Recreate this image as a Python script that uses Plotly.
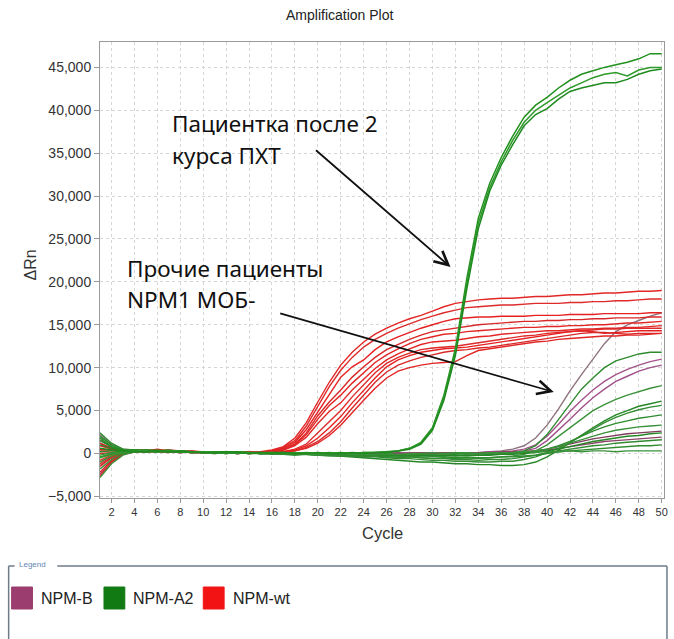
import plotly.graph_objects as go

# ---------------- data (ΔRn values in thousands) ----------------
cycles = list(range(1, 51))

npm_wt = [
    [1.2,0.6,0.3,0.3,0.4,0.3,0.2,0.3,0.2,0.2,0.1,0.2,0.1,0.1,0.2, 0.4,0.8,1.8,3.6,6.0,8.3,10.3,11.8,13.0,13.9,14.6,15.2,15.7,16.1,16.6,17.1,17.5, 17.7,17.9,18.0,18.1,18.1,18.2,18.3,18.3,18.4,18.5,18.5,18.6,18.7,18.7,18.8,18.9,18.9,19.0],
    [-0.8,-0.2,0.2,0.3,0.3,0.4,0.2,0.2,0.3,0.1,0.2,0.1,0.2,0.1,0.1, 0.3,0.7,1.5,3.2,5.5,7.8,9.7,11.2,12.4,13.3,14.0,14.6,15.1,15.6,16.0,16.4,16.7, 17.0,17.1,17.2,17.3,17.3,17.4,17.5,17.5,17.5,17.6,17.6,17.7,17.7,17.8,17.8,17.9,18.0,18.0],
    [0.5,0.4,0.3,0.2,0.3,0.5,0.3,0.2,0.2,0.2,0.1,0.1,0.2,0.2,0.1, 0.3,0.6,1.3,2.8,4.8,6.9,8.9,10.1,10.9,12.1,13.0,13.6,14.1,14.6,15.0,15.4,15.7, 15.8,15.9,15.9,16.0,16.0,16.0,16.1,16.1,16.1,16.2,16.2,16.2,16.3,16.3,16.3,16.3,16.4,16.4],
    [-2.2,-0.8,0.0,0.3,0.2,0.3,0.4,0.1,0.2,0.2,0.2,0.1,0.1,0.2,0.1, 0.2,0.5,1.1,2.4,4.4,6.0,7.4,8.9,10.1,11.2,12.1,12.7,13.3,13.8,14.2,14.4,14.6, 14.8,15.0,15.1,15.2,15.3,15.4,15.4,15.5,15.5,15.6,15.6,15.7,15.7,15.8,15.8,15.8,15.9,15.9],
    [0.9,0.5,0.3,0.3,0.2,0.2,0.4,0.3,0.1,0.1,0.2,0.2,0.1,0.1,0.2, 0.2,0.4,1.0,2.2,4.0,5.6,6.8,8.2,9.4,10.6,11.5,12.2,12.8,13.3,13.6,13.9,14.0, 14.2,14.3,14.4,14.5,14.6,14.7,14.7,14.8,14.8,14.9,14.9,15.0,15.0,15.1,15.2,15.2,15.3,15.4],
    [-1.5,-0.5,0.1,0.2,0.3,0.2,0.1,0.3,0.2,0.1,0.1,0.2,0.1,0.0,0.1, 0.2,0.4,0.9,1.9,3.5,4.9,5.9,7.4,8.6,9.9,10.9,11.6,12.2,12.7,13.0,13.1,13.2, 13.4,13.6,13.7,13.9,14.0,14.1,14.2,14.3,14.3,14.4,14.5,14.5,14.6,14.6,14.7,14.7,14.8,14.9],
    [0.3,0.3,0.2,0.4,0.3,0.2,0.2,0.1,0.3,0.2,0.1,0.1,0.1,0.1,0.1, 0.1,0.2,0.5,1.1,2.4,3.7,5.0,6.6,8.0,9.4,10.5,11.2,11.7,12.1,12.3,12.4,12.5, 12.7,12.9,13.1,13.3,13.5,13.7,13.8,14.0,14.1,14.2,14.3,14.4,14.5,14.5,14.6,14.6,14.6,14.6],
    [-2.6,-1.0,-0.1,0.2,0.2,0.3,0.2,0.2,0.1,0.2,0.2,0.1,0.0,0.1,0.1, 0.1,0.2,0.4,0.9,1.8,3.0,4.3,5.9,7.4,8.8,10.1,10.9,11.4,11.8,12.0,12.2,12.3, 12.4,12.6,12.8,13.0,13.2,13.4,13.6,13.8,14.0,14.2,14.3,14.2,14.0,14.1,14.2,14.3,14.3,14.3],
    [0.0,0.1,0.2,0.3,0.2,0.3,0.2,0.1,0.2,0.1,0.0,0.1,0.1,0.1,0.0, 0.1,0.2,0.3,0.7,1.4,2.4,3.7,5.3,6.8,8.3,9.5,10.3,10.8,11.2,11.5,11.8,12.0, 12.1,12.3,12.4,12.6,12.8,13.0,13.2,13.4,13.6,13.8,14.0,14.1,14.1,14.0,13.9,14.0,14.0,14.0],
    [-1.2,-0.4,0.1,0.2,0.3,0.2,0.2,0.2,0.1,0.1,0.1,0.0,0.1,0.1,0.1, 0.1,0.1,0.3,0.6,1.2,2.1,3.3,4.8,6.2,7.6,8.8,9.6,10.0,10.3,10.5,10.6,10.7, 11.4,12.0,12.2,12.4,12.6,12.8,13.0,13.1,13.3,13.4,13.5,13.6,13.7,13.7,13.8,13.8,13.9,14.0],
]

npm_a2_high = [
    [1.8,0.8,0.3,0.4,0.3,0.3,0.2,0.3,0.2,0.2,0.1,0.1,0.2,0.1,0.1,0.1,0.1,0.0,0.1,0.0,0.0,0.1,0.0,0.1,0.1, 0.2,0.3,0.6,1.3,3.0,6.8,12.2,20.4,27.4,31.5,34.5,37.0,39.2,40.6,41.5,42.6,43.5,44.2,44.6,45.0,45.3,45.6,46.0,46.6,46.6],
    [-0.5,-0.1,0.2,0.3,0.3,0.2,0.3,0.2,0.1,0.2,0.2,0.1,0.1,0.1,0.0,0.1,0.0,0.1,0.0,0.0,0.1,0.0,0.0,0.1,0.1, 0.2,0.3,0.6,1.2,2.9,6.5,11.8,19.8,26.8,31.0,34.0,36.5,38.6,40.0,40.9,41.8,42.6,43.2,43.8,44.2,44.4,44.0,44.7,45.0,45.0],
    [0.6,0.4,0.3,0.2,0.2,0.3,0.2,0.2,0.2,0.1,0.1,0.2,0.1,0.0,0.1,0.0,0.1,0.0,0.0,0.1,0.0,0.0,0.1,0.0,0.1, 0.1,0.3,0.5,1.1,2.7,6.2,11.4,19.2,26.2,30.6,33.6,36.0,38.2,39.5,40.2,41.3,42.2,42.6,42.9,43.2,43.2,43.6,44.2,44.6,44.8],
]

npm_a2_low = [
    [2.4,1.2,0.5,0.4,0.3,0.3,0.4,0.2,0.2,0.1,0.2,0.1,0.1,0.0,0.1, 0.0,0.1,0.0,-0.1,0.0,-0.1,-0.2,-0.1,-0.2,-0.2,-0.1,-0.2,-0.1,-0.2,-0.1,-0.1,0.0,-0.1,0.0,0.1,0.0,0.1, 0.3,0.9,2.2,4.0,5.8,7.5,8.8,10.0,10.8,11.2,11.6,11.8,11.8],
    [-2.8,-1.2,-0.2,0.2,0.3,0.2,0.3,0.1,0.2,0.2,0.1,0.0,0.1,0.1,0.0, 0.0,-0.1,-0.2,-0.1,-0.2,-0.3,-0.2,-0.3,-0.4,-0.3,-0.4,-0.5,-0.4,-0.5,-0.6,-0.5,-0.6,-0.5,-0.6,-0.5,-0.4,-0.3,-0.1, 0.3,1.0,2.0,3.0,4.0,5.0,5.7,6.3,6.8,7.2,7.6,7.9],
    [1.0,0.6,0.4,0.3,0.4,0.3,0.2,0.3,0.2,0.1,0.1,0.1,0.2,0.1,0.1, 0.1,0.0,0.0,-0.1,-0.1,-0.2,-0.3,-0.4,-0.5,-0.6,-0.7,-0.8,-0.9,-1.0,-1.0,-1.1,-1.2,-1.2,-1.3,-1.3,-1.4,-1.4,-1.3,-1.0, -0.4,0.4,1.3,2.2,3.0,3.8,4.5,5.0,5.5,5.8,6.1],
    [-1.8,-0.7,0.0,0.2,0.2,0.3,0.3,0.2,0.2,0.1,0.1,0.0,0.1,0.1,0.1, 0.0,0.0,-0.1,-0.1,-0.2,-0.2,-0.3,-0.3,-0.4,-0.4,-0.5,-0.6,-0.6,-0.7,-0.8,-0.8,-0.9,-0.9,-1.0,-1.0,-0.9,-0.9,-0.7,-0.4, 0.1,0.6,1.3,2.1,2.9,3.6,4.2,4.7,5.1,5.4,5.6],
    [0.2,0.3,0.3,0.4,0.3,0.2,0.3,0.2,0.1,0.2,0.1,0.1,0.0,0.1,0.0, 0.0,-0.1,0.0,-0.1,-0.1,-0.2,-0.1,-0.2,-0.2,-0.3,-0.2,-0.3,-0.3,-0.2,-0.3,-0.2,-0.3,-0.2,-0.2,-0.1,-0.1,0.0,0.1,0.2, 0.5,0.9,1.4,2.0,2.6,3.1,3.5,3.8,4.1,4.3,4.5],
    [-1.0,-0.3,0.1,0.3,0.2,0.3,0.2,0.2,0.2,0.1,0.0,0.1,0.1,0.0,0.1, 0.1,0.0,0.0,-0.1,0.0,-0.1,-0.1,-0.2,-0.1,-0.2,-0.2,-0.1,-0.2,-0.1,-0.2,-0.1,-0.1,0.0,-0.1,0.0,0.1,0.1,0.2,0.3, 0.5,0.8,1.2,1.6,2.0,2.4,2.7,2.9,3.1,3.2,3.3],
    [1.5,0.8,0.4,0.3,0.3,0.4,0.2,0.3,0.1,0.1,0.2,0.1,0.1,0.1,0.0, 0.0,0.1,0.0,0.0,-0.1,0.0,-0.1,-0.1,-0.2,-0.1,-0.2,-0.2,-0.3,-0.2,-0.3,-0.3,-0.2,-0.3,-0.2,-0.2,-0.1,-0.1,0.0,0.1, 0.3,0.5,0.8,1.1,1.4,1.6,1.8,2.0,2.1,2.3,2.4],
    [-0.4,0.0,0.2,0.3,0.2,0.2,0.3,0.2,0.1,0.1,0.1,0.2,0.1,0.0,0.0, 0.0,0.0,-0.1,-0.1,-0.2,-0.2,-0.3,-0.3,-0.4,-0.3,-0.4,-0.5,-0.4,-0.5,-0.6,-0.6,-0.7,-0.7,-0.8,-0.7,-0.7,-0.6,-0.4,-0.2, 0.1,0.3,0.5,0.7,0.9,1.0,1.2,1.3,1.4,1.5,1.6],
    [2.0,1.0,0.5,0.3,0.4,0.3,0.3,0.2,0.2,0.2,0.1,0.1,0.1,0.1,0.1, 0.1,0.0,0.0,0.0,-0.1,-0.1,-0.1,-0.2,-0.2,-0.2,-0.3,-0.3,-0.3,-0.4,-0.4,-0.4,-0.5,-0.5,-0.5,-0.5,-0.4,-0.4,-0.3,-0.2, 0.0,0.2,0.3,0.4,0.5,0.6,0.7,0.8,0.9,0.9,1.0],
    [-0.2,0.1,0.2,0.2,0.3,0.2,0.2,0.3,0.2,0.1,0.1,0.1,0.1,0.1,0.0, 0.0,0.0,0.0,-0.1,-0.1,-0.1,0.0,-0.1,-0.1,-0.1,0.0,-0.1,0.0,0.0,0.1,0.0,0.1,0.1,0.0,0.1,0.1,0.1,0.2,0.2, 0.2,0.2,0.3,0.2,0.3,0.3,0.2,0.3,0.3,0.3,0.3],
]

npm_b = [
    [2.2,1.0,0.5,0.4,0.4,0.3,0.3,0.3,0.2,0.2,0.2,0.1,0.1,0.1,0.1, 0.1,0.1,0.0,0.0,0.0,0.0,-0.1,0.0,0.0,-0.1,0.0,0.0,0.0,0.0,0.1,0.0,0.1,0.1,0.1,0.2,0.3,0.5, 0.9,1.8,3.3,5.2,7.3,9.2,11.0,12.8,14.2,15.0,15.5,16.0,16.4],
    [1.6,0.7,0.4,0.3,0.3,0.3,0.2,0.2,0.2,0.2,0.1,0.1,0.1,0.1,0.0, 0.0,0.0,0.0,-0.1,0.0,-0.1,-0.1,0.0,-0.1,0.0,0.0,0.0,0.1,0.0,0.0,0.1,0.1,0.1,0.1,0.2,0.2,0.3, 0.5,1.0,2.0,3.4,4.9,6.2,7.4,8.4,9.2,9.8,10.3,10.7,11.0],
    [-2.4,-1.0,-0.1,0.2,0.3,0.2,0.2,0.2,0.1,0.1,0.1,0.1,0.1,0.0,0.1, 0.0,0.0,-0.1,-0.1,0.0,-0.1,0.0,-0.1,0.0,0.0,0.0,0.1,0.0,0.0,0.1,0.0,0.1,0.1,0.1,0.1,0.2,0.2, 0.3,0.6,1.5,2.7,4.0,5.3,6.5,7.5,8.4,9.0,9.6,10.0,10.3],
    [1.2,0.6,0.3,0.3,0.2,0.3,0.2,0.2,0.1,0.1,0.2,0.1,0.0,0.1,0.1, 0.0,0.0,0.0,0.0,-0.1,0.0,0.0,-0.1,0.0,0.0,0.0,0.0,0.0,0.1,0.0,0.1,0.1,0.0,0.1,0.1,0.1,0.1, 0.2,0.3,0.5,0.8,1.1,1.4,1.7,1.9,2.1,2.3,2.4,2.5,2.6],
    [-1.4,-0.5,0.1,0.2,0.3,0.2,0.2,0.1,0.2,0.1,0.1,0.1,0.0,0.1,0.0, 0.0,0.0,0.0,-0.1,-0.1,0.0,-0.1,0.0,0.0,0.0,0.1,0.0,0.0,0.1,0.0,0.1,0.1,0.1,0.1,0.1,0.2,0.2, 0.2,0.3,0.4,0.6,0.8,1.0,1.2,1.4,1.5,1.6,1.7,1.8,1.9],
]

legend_names = ["NPM-B", "NPM-A2", "NPM-wt"]
legend_colors = ["#9B3D6E", "#127A12", "#F21414"]

# ---------------- geometry helpers (pixel -> paper / data) ----------------
W, H = 674, 639
L, R, T, B = 100, 668, 42, 498
X0, X1 = 1.0, 50.2
Y0, Y1 = -5190, 47960


def pxp(x):
    return (x - L) / (R - L)


def pyp(y):
    return (B - y) / (B - T)


def pxd(x):
    return X0 + (x - L) / (R - L) * (X1 - X0)


def pyd(y):
    return Y0 + (B - y) / (B - T) * (Y1 - Y0)


fig = go.Figure()


def add(curves, colors, width=1.4):
    for i, c in enumerate(curves):
        fig.add_trace(go.Scatter(
            x=cycles, y=[v * 1000 for v in c], mode="lines",
            line=dict(color=colors[i % len(colors)], width=width),
            showlegend=False, hoverinfo="skip"))


add(npm_b, ["#8F7380", "#A4548A", "#A0508A", "#7E3A5C", "#8C4468"])
add(npm_wt, ["#E32626", "#DD2A2A", "#E62020", "#D82828", "#E22525"])
add(npm_a2_low, ["#2E8B2E", "#3A913A", "#268626", "#338C33"])
add(npm_a2_high, ["#22901E", "#2E9A2A", "#1F8A1F"], width=1.5)

shapes = []
annotations = []

# title / axis titles
annotations.append(dict(text="Amplification Plot", x=pxp(341), y=pyp(15), xref="paper", yref="paper",
                        showarrow=False, font=dict(size=14, color="#222", family="Liberation Sans, Arial"),
                        xanchor="center", yanchor="middle"))
annotations.append(dict(text="ΔRn", x=pxp(30), y=pyp(265), xref="paper", yref="paper", textangle=-90,
                        showarrow=False, font=dict(size=16, color="#333", family="Liberation Sans, Arial"),
                        xanchor="center", yanchor="middle"))
annotations.append(dict(text="Cycle", x=pxp(384), y=pyp(533), xref="paper", yref="paper",
                        showarrow=False, font=dict(size=16.5, color="#333", family="Liberation Sans, Arial"),
                        xanchor="center", yanchor="middle"))

# callout texts
txt_font = dict(size=22.5, color="#111", family="Noto Sans, Open Sans, sans-serif")
for text, x, y in [("Пациентка после 2", 170, 123), ("курса ПХТ", 170, 155),
                   ("Прочие пациенты", 125, 268), ("NPM1 МОБ-", 125, 299)]:
    annotations.append(dict(text=text, x=pxp(x), y=pyp(y), xref="paper", yref="paper", showarrow=False,
                            font=txt_font, xanchor="left", yanchor="middle"))

# arrows
for (tx, ty), (hx, hy) in [((316, 149), (453, 267)), ((280, 313), (557, 392))]:
    annotations.append(dict(text="", x=pxd(hx), y=pyd(hy), ax=pxd(tx), ay=pyd(ty),
                            xref="x", yref="y", axref="x", ayref="y", showarrow=True,
                            arrowhead=5, arrowsize=1.5, arrowwidth=1.8, arrowcolor="#111",
                            standoff=0, startstandoff=0))

# legend frame
lc = "#6E7B88"
for (x0, y0, x1, y1) in [(8, 566, 8, 660), (671, 566, 671, 660), (8, 566, 14, 566), (57, 566, 671, 566)]:
    shapes.append(dict(type="line", xref="paper", yref="paper", x0=pxp(x0), y0=pyp(y0), x1=pxp(x1), y1=pyp(y1),
                       line=dict(color=lc, width=1.5)))
annotations.append(dict(text="Legend", x=pxp(16), y=pyp(564), xref="paper", yref="paper", showarrow=False,
                        font=dict(size=8, color="#5F86B5", family="Liberation Sans, Arial"),
                        xanchor="left", yanchor="middle"))

sw_x = [11, 104, 204]
tx_x = [39, 131, 232]
for name, col, sx, tx in zip(legend_names, legend_colors, sw_x, tx_x):
    shapes.append(dict(type="rect", xref="paper", yref="paper", x0=pxp(sx), x1=pxp(sx + 21),
                       y0=pyp(587), y1=pyp(609), fillcolor=col, line=dict(color=col, width=1)))
    annotations.append(dict(text=name, x=pxp(tx), y=pyp(598), xref="paper", yref="paper", showarrow=False,
                            font=dict(size=16, color="#222", family="Liberation Sans, Arial"),
                            xanchor="left", yanchor="middle"))

fig.update_layout(
    width=W, height=H,
    margin=dict(l=L, r=W - R, t=T, b=H - B, pad=0),
    paper_bgcolor="white", plot_bgcolor="white",
    showlegend=False,
    shapes=shapes, annotations=annotations,
    xaxis=dict(range=[X0, X1], tickmode="linear", tick0=2, dtick=2,
               showgrid=True, gridcolor="#D6D6D6", griddash="dot", gridwidth=1,
               showline=True, linecolor="#9A9A9A", linewidth=1, mirror=True,
               ticks="outside", ticklen=4, tickcolor="#9A9A9A",
               tickfont=dict(size=11, color="#333", family="Liberation Sans, Arial"),
               zeroline=False),
    yaxis=dict(range=[Y0, Y1], tickmode="linear", tick0=0, dtick=5000, tickformat=",d",
               showgrid=True, gridcolor="#D6D6D6", griddash="dot", gridwidth=1,
               showline=True, linecolor="#9A9A9A", linewidth=1, mirror=True,
               ticks="outside", ticklen=5, tickcolor="#9A9A9A",
               tickfont=dict(size=14, color="#333", family="Liberation Sans, Arial"),
               zeroline=False),
)

fig.write_html("out.html")
